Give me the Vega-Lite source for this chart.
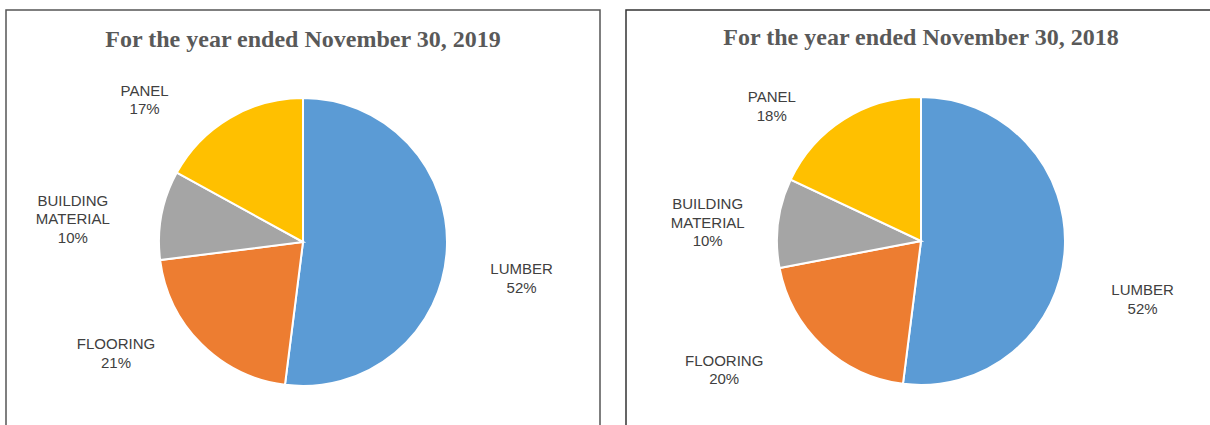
{
  "$schema": "https://vega.github.io/schema/vega-lite/v6.json",
  "padding": {"left": 5, "top": 9, "right": 0, "bottom": 0},
  "spacing": 24,
  "config": {
    "view": {"stroke": "#4d4d4d", "strokeWidth": 1.5},
    "title": {"font": "Liberation Serif", "fontSize": 24, "fontWeight": "bold", "color": "#595959", "anchor": "middle", "baseline": "alphabetic"},
    "text": {"font": "Liberation Sans", "fontSize": 15, "color": "#404040", "lineBreak": "\n", "lineHeight": 18.5, "align": "center", "baseline": "middle"}
  },
  "datasets": {
    "y2019": [
      {"cat": "LUMBER", "value": 52, "ord": 1, "label": "LUMBER\n52%"},
      {"cat": "FLOORING", "value": 21, "ord": 2, "label": "FLOORING\n21%"},
      {"cat": "BUILDING MATERIAL", "value": 10, "ord": 3, "label": "BUILDING\nMATERIAL\n10%"},
      {"cat": "PANEL", "value": 17, "ord": 4, "label": "PANEL\n17%"}
    ],
    "y2018": [
      {"cat": "LUMBER", "value": 52, "ord": 1, "label": "LUMBER\n52%"},
      {"cat": "FLOORING", "value": 20, "ord": 2, "label": "FLOORING\n20%"},
      {"cat": "BUILDING MATERIAL", "value": 10, "ord": 3, "label": "BUILDING\nMATERIAL\n10%"},
      {"cat": "PANEL", "value": 18, "ord": 4, "label": "PANEL\n18%"}
    ]
  },
  "hconcat": [
    {
      "width": 594,
      "height": 464,
      "view": {"stroke": "#555555", "strokeWidth": 1.5},
      "title": {"text": "For the year ended November 30, 2019", "offset": -42},
      "data": {"name": "y2019"},
      "encoding": {
        "theta": {"field": "value", "type": "quantitative", "stack": true},
        "order": {"field": "ord", "type": "quantitative"}
      },
      "layer": [
        {
          "mark": {"type": "arc", "outerRadius": 144, "stroke": "white", "strokeWidth": 2},
          "encoding": {
            "color": {"field": "cat", "type": "nominal", "legend": null,
              "scale": {"domain": ["LUMBER", "FLOORING", "BUILDING MATERIAL", "PANEL"], "range": ["#5B9BD5", "#ED7D31", "#A5A5A5", "#FFC000"]}}
          }
        },
        {
          "mark": {"type": "text", "radius": 215, "dx": 4, "dy": 14},
          "encoding": {"detail": {"field": "cat"}, "text": {"condition": {"test": "datum.cat === 'LUMBER'", "field": "label"}, "value": ""}}
        },
        {
          "mark": {"type": "text", "radius": 157, "dx": -76, "dy": -9},
          "encoding": {"detail": {"field": "cat"}, "text": {"condition": {"test": "datum.cat === 'FLOORING'", "field": "label"}, "value": ""}}
        },
        {
          "mark": {"type": "text", "radius": 215, "dx": -19, "dy": -1},
          "encoding": {"detail": {"field": "cat"}, "text": {"condition": {"test": "datum.cat === 'BUILDING MATERIAL'", "field": "label"}, "value": ""}}
        },
        {
          "mark": {"type": "text", "radius": 215, "dx": -49, "dy": 34},
          "encoding": {"detail": {"field": "cat"}, "text": {"condition": {"test": "datum.cat === 'PANEL'", "field": "label"}, "value": ""}}
        }
      ]
    },
    {
      "width": 590,
      "height": 462,
      "view": {"stroke": "#333333", "strokeWidth": 1.5},
      "title": {"text": "For the year ended November 30, 2018", "offset": -40},
      "data": {"name": "y2018"},
      "encoding": {
        "theta": {"field": "value", "type": "quantitative", "stack": true},
        "order": {"field": "ord", "type": "quantitative"}
      },
      "layer": [
        {
          "mark": {"type": "arc", "outerRadius": 144, "stroke": "white", "strokeWidth": 2},
          "encoding": {
            "color": {"field": "cat", "type": "nominal", "legend": null,
              "scale": {"domain": ["LUMBER", "FLOORING", "BUILDING MATERIAL", "PANEL"], "range": ["#5B9BD5", "#ED7D31", "#A5A5A5", "#FFC000"]}}
          }
        },
        {
          "mark": {"type": "text", "radius": 215, "dx": 7, "dy": 36},
          "encoding": {"detail": {"field": "cat"}, "text": {"condition": {"test": "datum.cat === 'LUMBER'", "field": "label"}, "value": ""}}
        },
        {
          "mark": {"type": "text", "radius": 178, "dx": -75, "dy": -10},
          "encoding": {"detail": {"field": "cat"}, "text": {"condition": {"test": "datum.cat === 'FLOORING'", "field": "label"}, "value": ""}}
        },
        {
          "mark": {"type": "text", "radius": 215, "dx": 0, "dy": -10},
          "encoding": {"detail": {"field": "cat"}, "text": {"condition": {"test": "datum.cat === 'BUILDING MATERIAL'", "field": "label"}, "value": ""}}
        },
        {
          "mark": {"type": "text", "radius": 215, "dx": -34, "dy": 38},
          "encoding": {"detail": {"field": "cat"}, "text": {"condition": {"test": "datum.cat === 'PANEL'", "field": "label"}, "value": ""}}
        }
      ]
    }
  ]
}
